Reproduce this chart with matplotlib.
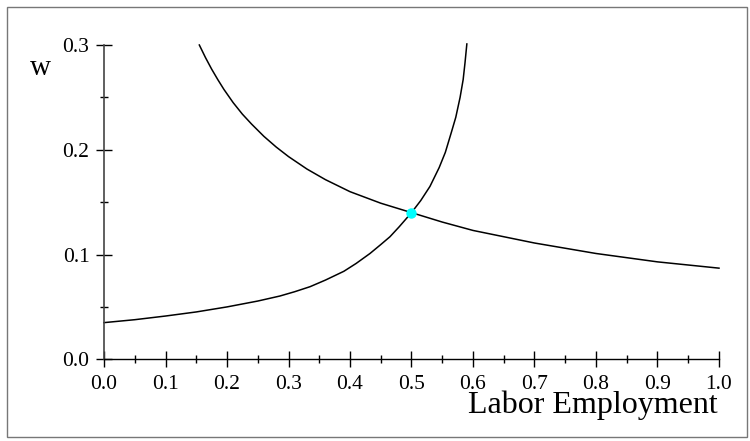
import matplotlib
matplotlib.use("Agg")
import matplotlib.pyplot as plt
from matplotlib.patches import Rectangle
from matplotlib.ticker import MultipleLocator

# labor demand (downward sloping) and labor supply (upward sloping)
demand_L = [0.155, 0.165, 0.175, 0.185, 0.195, 0.210, 0.225, 0.240, 0.260, 0.280,
            0.300, 0.330, 0.360, 0.400, 0.450, 0.500, 0.550, 0.600, 0.650, 0.700,
            0.750, 0.800, 0.850, 0.900, 0.950, 1.000]
demand_w = [0.300, 0.288, 0.277, 0.267, 0.2576, 0.245, 0.234, 0.2245, 0.2128, 0.2026,
            0.1935, 0.1816, 0.1715, 0.160, 0.149, 0.140, 0.131, 0.123, 0.117, 0.111,
            0.106, 0.101, 0.097, 0.093, 0.090, 0.087]

supply_L = [0.000, 0.050, 0.100, 0.150, 0.200, 0.250, 0.286, 0.310, 0.335, 0.360,
            0.390, 0.410, 0.4325, 0.450, 0.465, 0.480, 0.500, 0.515, 0.530, 0.545,
            0.555, 0.565, 0.572, 0.579, 0.584, 0.587, 0.590]
supply_w = [0.0350, 0.0378, 0.0413, 0.0452, 0.0500, 0.0556, 0.0604, 0.0645, 0.0693, 0.0756,
            0.0840, 0.0915, 0.1010, 0.1095, 0.1170, 0.1265, 0.1400, 0.1515, 0.1650, 0.1830,
            0.1975, 0.2170, 0.2310, 0.2500, 0.2670, 0.2830, 0.3010]

eq_L = 0.5
eq_w = 0.14

x_ticks = [0.0, 0.1, 0.2, 0.3, 0.4, 0.5, 0.6, 0.7, 0.8, 0.9, 1.0]
y_ticks = [0.0, 0.1, 0.2, 0.3]

plt.rcParams["font.family"] = ["Liberation Serif", "DejaVu Serif"]

fig = plt.figure(figsize=(7.5, 4.41), dpi=100)
ax = fig.add_axes([104 / 750, 1 - 359.3 / 441, 615 / 750, 314.3 / 441])

ax.plot(demand_L, demand_w, color="black", lw=1.1, clip_on=False)
ax.plot(supply_L, supply_w, color="black", lw=1.1, clip_on=False)
ax.plot([eq_L], [eq_w], "o", color="cyan", ms=6.5, zorder=5, clip_on=False)

ax.set_xlim(0, 1.0)
ax.set_ylim(0, 0.3)
ax.set_xticks(x_ticks)
ax.set_yticks(y_ticks)
ax.set_xticklabels([f"{v:.1f}" for v in x_ticks])
ax.set_yticklabels([f"{v:.1f}" for v in y_ticks])
ax.xaxis.set_minor_locator(MultipleLocator(0.05))
ax.yaxis.set_minor_locator(MultipleLocator(0.05))

for side in ("top", "right"):
    ax.spines[side].set_visible(False)
ax.spines["left"].set_color("#444444")
ax.spines["left"].set_linewidth(1.2)
ax.spines["bottom"].set_linewidth(1.0)

ax.tick_params(which="major", direction="inout", length=11, width=1.0, labelsize=15.5)
ax.tick_params(axis="x", which="major", pad=6)
ax.tick_params(axis="y", which="major", pad=5)
ax.tick_params(which="minor", direction="inout", length=5.5, width=1.0)

fig.text(718 / 750, 1 - 413 / 441, "Labor Employment", ha="right", va="baseline", fontsize=23)
fig.text(30 / 750, 1 - 75 / 441, "w", ha="left", va="baseline", fontsize=21)

# thin border round the whole figure
fig.patches.append(Rectangle((7 / 750, 4 / 441), 740 / 750, 430 / 441,
                             transform=fig.transFigure, fill=False,
                             edgecolor="#777777", lw=1.0))

fig.savefig("out.png", dpi=100)
